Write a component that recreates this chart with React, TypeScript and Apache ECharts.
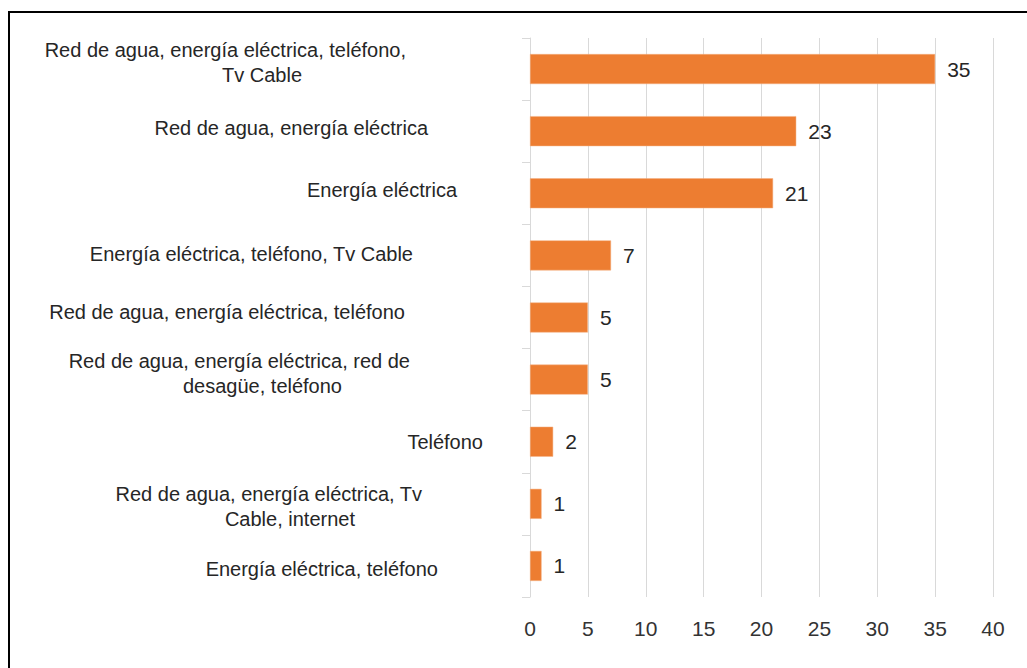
import React, { useEffect, useRef } from "react";
import * as echarts from "echarts";

const categories: string[] = [
  "Red de agua, energía eléctrica, teléfono,\nTv Cable",
  "Red de agua, energía eléctrica",
  "Energía eléctrica",
  "Energía eléctrica, teléfono, Tv Cable",
  "Red de agua, energía eléctrica, teléfono",
  "Red de agua, energía eléctrica, red de\ndesagüe, teléfono",
  "Teléfono",
  "Red de agua, energía eléctrica, Tv\nCable, internet",
  "Energía eléctrica, teléfono",
];

const values: number[] = [35, 23, 21, 7, 5, 5, 2, 1, 1];

const xTicks = { min: 0, max: 40, interval: 5 };

// layout: right edge (px) of each label line, and vertical shift of the label block
const labelLineRight: number[][] = [
  [406, 302],
  [428],
  [457],
  [413],
  [405],
  [410, 342],
  [483],
  [422, 355],
  [438],
];
const labelShiftY: number[] = [-7, -3, -3, -1, -6, -6, 0, 3, 3];

const AXIS_X = 530;
const FONT = "'Liberation Sans', Arial, sans-serif";
const LABEL_SIZE = 20;
const LINE_H = 25;

export default function App() {
  const ref = useRef<HTMLDivElement>(null);

  useEffect(() => {
    document.body.style.margin = "0";
    if (!ref.current) return;
    const chart = echarts.init(ref.current, undefined, { renderer: "svg" });

    const rich: Record<string, any> = {};
    categories.forEach((c, i) => {
      const lines = c.split("\n");
      const r = labelLineRight[i];
      lines.forEach((_, j) => {
        rich[`c${i}l${j}`] = {
          fontFamily: FONT,
          fontSize: LABEL_SIZE,
          lineHeight: LINE_H,
          color: "#262626",
          padding: [0, r[0] - r[j], 0, 0],
        };
      });
    });

    const yData = categories.map((c, i) => {
      const dy = labelShiftY[i];
      return {
        value: c,
        textStyle: {
          padding: [dy > 0 ? dy * 2 : 0, AXIS_X - labelLineRight[i][0], dy < 0 ? -dy * 2 : 0, 0],
        },
      };
    });

    chart.setOption({
      animation: false,
      backgroundColor: "#ffffff",
      grid: { left: AXIS_X, top: 38, right: 34, bottom: 71, containLabel: false },
      xAxis: {
        type: "value",
        min: xTicks.min,
        max: xTicks.max,
        interval: xTicks.interval,
        axisLine: { show: false },
        axisTick: { show: false },
        splitLine: { show: true, lineStyle: { color: "#d9d9d9", width: 1 } },
        axisLabel: {
          fontFamily: FONT,
          fontSize: 21,
          color: "#333333",
          margin: 21,
        },
      },
      yAxis: {
        type: "category",
        inverse: true,
        data: yData,
        axisLine: { show: true, lineStyle: { color: "#d9d9d9", width: 1 } },
        axisTick: { show: true, length: 8, lineStyle: { color: "#d9d9d9" } },
        axisLabel: {
          margin: 0,
          align: "right",
          fontFamily: FONT,
          fontSize: LABEL_SIZE,
          lineHeight: LINE_H,
          color: "#262626",
          formatter: (v: string) => {
            const i = categories.indexOf(v);
            return v
              .split("\n")
              .map((t, j) => `{c${i}l${j}|${t}}`)
              .join("\n");
          },
          rich,
        },
      },
      series: [
        {
          type: "bar",
          data: values,
          barWidth: 30,
          itemStyle: { color: "#ED7D31", borderColor: "#F4B183", borderWidth: 0.5 },
          label: {
            show: true,
            position: "right",
            distance: 12,
            fontFamily: FONT,
            fontSize: 21,
            color: "#262626",
          },
        },
      ],
      graphic: [
        {
          type: "rect",
          shape: { x: 9, y: 12, width: 1100, height: 800 },
          style: { fill: "none", stroke: "#000000", lineWidth: 2 },
          silent: true,
          z: 100,
        },
      ],
    });

    return () => chart.dispose();
  }, []);

  return <div ref={ref} style={{ width: 1027, height: 668 }} />;
}
